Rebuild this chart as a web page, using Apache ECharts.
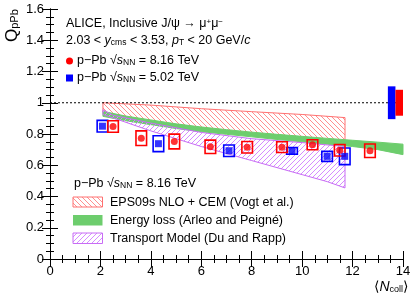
<!DOCTYPE html>
<html><head><meta charset="utf-8">
<script src="https://cdn.jsdelivr.net/npm/echarts@6/dist/echarts.min.js"></script>
<style>html,body{margin:0;padding:0;background:#fff}#c{width:415px;height:298px}</style>
</head><body><div id="c"></div>
<script>
// ---- data ----
const ncoll816 = [2.5, 3.62, 4.93, 6.36, 7.82, 9.2, 10.41, 11.49, 12.69];
const q816     = [0.848, 0.773, 0.752, 0.718, 0.715, 0.716, 0.731, 0.696, 0.693];
const syst816  = [0.037, 0.047, 0.047, 0.043, 0.037, 0.034, 0.032, 0.037, 0.043];
const ncoll502 = [2.08, 4.30, 7.10, 9.6, 10.99, 11.69];
const q502     = [0.850, 0.738, 0.693, 0.692, 0.657, 0.657];
const syst502  = [0.037, 0.051, 0.037, 0.022, 0.032, 0.053];
const globX    = [13.55, 13.85];
const globErr  = [0.105, 0.083];
const epsX  = [2.1, 4, 6, 8, 10, 11.7];
const epsHi = [1.0, 0.985, 0.962, 0.943, 0.925, 0.905];
const epsLo = [0.94, 0.88, 0.84, 0.805, 0.775, 0.74];
const elX  = [2.1, 3, 4, 5, 6, 7, 8, 9, 10, 11, 12, 13, 14];
const elHi = [0.945, 0.915, 0.89, 0.865, 0.845, 0.828, 0.812, 0.798, 0.785, 0.772, 0.76, 0.748, 0.735];
const elLo = [0.913, 0.885, 0.86, 0.835, 0.815, 0.798, 0.782, 0.765, 0.75, 0.735, 0.72, 0.7, 0.668];
const trX  = [2.1, 2.5, 4, 6, 8, 10, 11, 11.7];
const trHi = [0.955, 0.92, 0.87, 0.81, 0.77, 0.745, 0.73, 0.72];
const trLo = [0.925, 0.903, 0.82, 0.72, 0.63, 0.54, 0.495, 0.455];
const xTicks = [0, 14, 2];
const yTicks = [0, 1.6, 0.2];

const FF = '"Liberation Sans", Arial, sans-serif';
function hatch(color, dir, s) {
  const c = document.createElement('canvas'); c.width = s; c.height = s;
  const g = c.getContext('2d'); g.strokeStyle = color; g.lineWidth = 1; g.beginPath();
  for (const k of [-s, 0, s]) {
    if (dir > 0) { g.moveTo(k, 0); g.lineTo(k + s, s); } else { g.moveTo(k, s); g.lineTo(k + s, 0); }
  }
  g.stroke(); return { image: c, repeat: 'repeat' };
}
const redHatch = hatch('#ff8f8f', 1, 5);
const vioHatch = hatch('#d58cff', -1, 5);
const GREEN = '#6dcd6d';

function band(xs, lo, hi, fill, stroke, z) {
  return { type: 'custom', z: z, silent: true, data: xs.map((x, i) => [x, lo[i], hi[i]]),
    encode: { x: 0, y: [1, 2] },
    renderItem(params, api) {
      if (params.dataIndex !== 0) return null;
      const pts = [];
      for (let i = 0; i < xs.length; i++) pts.push(api.coord([xs[i], hi[i]]));
      for (let i = xs.length - 1; i >= 0; i--) pts.push(api.coord([xs[i], lo[i]]));
      return { type: 'polygon', shape: { points: pts }, style: { fill: fill, stroke: stroke, lineWidth: 1 } };
    } };
}
function boxes(xs, ys, es, color, z) {
  const hw = 0.21;
  return { type: 'custom', z: z, silent: true, data: xs.map((x, i) => [x, ys[i], es[i]]),
    encode: { x: 0, y: 1 },
    renderItem(params, api) {
      const x = api.value(0), y = api.value(1), e = api.value(2);
      const a = api.coord([x - hw, y + e]), b = api.coord([x + hw, y - e]);
      return { type: 'rect', shape: { x: a[0], y: a[1], width: b[0] - a[0], height: b[1] - a[1] },
        style: { fill: 'none', stroke: color, lineWidth: 1.6 } };
    } };
}
const globColors = ['#0000ff', '#ff0000'];

const axisCommon = {
  axisLine: { show: true, lineStyle: { color: '#000', width: 1 } },
  axisTick: { show: true, inside: true, length: 8, lineStyle: { color: '#000' } },
  minorTick: { show: true, splitNumber: 4, length: 4, lineStyle: { color: '#000' } },
  splitLine: { show: false }
};
const xBase = { type: 'value', min: xTicks[0], max: xTicks[1], interval: xTicks[2] };
const yBase = { type: 'value', min: yTicks[0], max: yTicks[1], interval: yTicks[2] };

const chart = echarts.init(document.getElementById('c'), null, { renderer: 'canvas' });
chart.setOption({
  animation: false,
  backgroundColor: '#fff',
  grid: { left: 50, right: 12, top: 9, bottom: 39, containLabel: false, outerBoundsMode: 'none' },
  xAxis: [
    Object.assign({}, xBase, axisCommon, { position: 'bottom',
      axisLabel: { color: '#000', fontSize: 13, fontFamily: FF, margin: 6 } }),
    Object.assign({}, xBase, axisCommon, { position: 'top', axisLabel: { show: false } })
  ],
  yAxis: [
    Object.assign({}, yBase, axisCommon, { position: 'left',
      axisLabel: { color: '#000', fontSize: 13, fontFamily: FF, margin: 6 } }),
    Object.assign({}, yBase, axisCommon, { position: 'right', axisLabel: { show: false } })
  ],
  series: [
    band(epsX, epsLo, epsHi, redHatch, '#ff7070', 1),
    band(elX, elLo, elHi, GREEN, GREEN, 2),
    band(trX, trLo, trHi, vioHatch, '#c86cf5', 3),
    { type: 'line', z: 4, silent: true, data: [[0, 1], [14, 1]], showSymbol: false,
      lineStyle: { color: '#000', width: 1, type: [2, 2] } },
    { type: 'custom', z: 5, silent: true, data: globX.map((x, i) => [x, 1, globErr[i]]),
      encode: { x: 0, y: 1 },
      renderItem(params, api) {
        const x = api.value(0), e = api.value(2);
        const a = api.coord([x - 0.15, 1 + e]), b = api.coord([x + 0.15, 1 - e]);
        return { type: 'rect', shape: { x: a[0], y: a[1], width: b[0] - a[0], height: b[1] - a[1] },
          style: { fill: globColors[params.dataIndex] } };
      } },
    boxes(ncoll502, q502, syst502, '#0000ff', 6),
    boxes(ncoll816, q816, syst816, '#ff0000', 6),
    { type: 'scatter', z: 7, silent: true, symbol: 'rect', symbolSize: 7,
      itemStyle: { color: '#0000ff' }, data: ncoll502.map((x, i) => [x, q502[i]]) },
    { type: 'scatter', z: 7, silent: true, symbol: 'circle', symbolSize: 7,
      itemStyle: { color: '#ff0000' }, data: ncoll816.map((x, i) => [x, q816[i]]) }
  ],
  graphic: [
    { type: 'text', x: 66, y: 24, style: { text: 'ALICE, Inclusive J/ψ → μ{sup|+}μ{sup|−}', font: '12.5px ' + FF, fill: '#000', textVerticalAlign: 'middle',
      rich: { sup: { fontSize: 8, verticalAlign: 'top', lineHeight: 8, fontFamily: FF } } } },
    { type: 'text', x: 66, y: 41, style: { text: '2.03 < {i|y}{sub|cms} < 3.53, {i|p}{sub|T} < 20 GeV/{i|c}', font: '12.5px ' + FF, fill: '#000', textVerticalAlign: 'middle',
      rich: { i: { fontStyle: 'italic', fontSize: 12.5, fontFamily: FF }, sub: { fontSize: 8.5, verticalAlign: 'bottom', lineHeight: 6, fontFamily: FF } } } },
    { type: 'circle', shape: { cx: 69.5, cy: 61, r: 3.5 }, style: { fill: '#ff0000' } },
    { type: 'text', x: 77, y: 61, style: { text: 'p−Pb √{i|s}{sub|NN} = 8.16 TeV', font: '12.5px ' + FF, fill: '#000', textVerticalAlign: 'middle',
      rich: { i: { fontStyle: 'italic', fontSize: 12.5, fontFamily: FF }, sub: { fontSize: 8.5, verticalAlign: 'bottom', lineHeight: 6, fontFamily: FF } } } },
    { type: 'rect', shape: { x: 66, y: 74.5, width: 7, height: 7 }, style: { fill: '#0000ff' } },
    { type: 'text', x: 77, y: 77.5, style: { text: 'p−Pb √{i|s}{sub|NN} = 5.02 TeV', font: '12.5px ' + FF, fill: '#000', textVerticalAlign: 'middle',
      rich: { i: { fontStyle: 'italic', fontSize: 12.5, fontFamily: FF }, sub: { fontSize: 8.5, verticalAlign: 'bottom', lineHeight: 6, fontFamily: FF } } } },
    { type: 'text', x: 74, y: 184, style: { text: 'p−Pb √{i|s}{sub|NN} = 8.16 TeV', font: '12.5px ' + FF, fill: '#000', textVerticalAlign: 'middle',
      rich: { i: { fontStyle: 'italic', fontSize: 12.5, fontFamily: FF }, sub: { fontSize: 8.5, verticalAlign: 'bottom', lineHeight: 6, fontFamily: FF } } } },
    { type: 'rect', shape: { x: 73, y: 197, width: 29.5, height: 10 }, style: { fill: redHatch, stroke: '#ff7070', lineWidth: 1 } },
    { type: 'rect', shape: { x: 73, y: 215, width: 29.5, height: 10.5 }, style: { fill: GREEN } },
    { type: 'rect', shape: { x: 73, y: 233, width: 29.5, height: 10.5 }, style: { fill: vioHatch, stroke: '#c86cf5', lineWidth: 1 } },
    { type: 'text', x: 110, y: 202.5, style: { text: 'EPS09s NLO + CEM (Vogt et al.)', font: '12.5px ' + FF, fill: '#000', textVerticalAlign: 'middle' } },
    { type: 'text', x: 110, y: 220.5, style: { text: 'Energy loss (Arleo and Peigné)', font: '12.5px ' + FF, fill: '#000', textVerticalAlign: 'middle' } },
    { type: 'text', x: 110, y: 238.5, style: { text: 'Transport Model (Du and Rapp)', font: '12.5px ' + FF, fill: '#000', textVerticalAlign: 'middle' } },
    { type: 'text', x: 408, y: 287, style: { text: '⟨{i|N}{sub|coll}⟩', font: '14px ' + FF, fill: '#000', textAlign: 'right', textVerticalAlign: 'middle',
      rich: { i: { fontStyle: 'italic', fontSize: 14, fontFamily: FF }, sub: { fontSize: 9, verticalAlign: 'bottom', lineHeight: 6, fontFamily: FF } } } },
    { type: 'text', x: 12, y: 42, rotation: Math.PI / 2, style: { text: '{q|Q}{sub|pPb}', fill: '#000', textAlign: 'left', textVerticalAlign: 'middle',
      rich: { q: { fontSize: 17, fontFamily: FF }, sub: { fontSize: 11, verticalAlign: 'bottom', lineHeight: 7, fontFamily: FF } } } }
  ]
});
</script></body></html>
